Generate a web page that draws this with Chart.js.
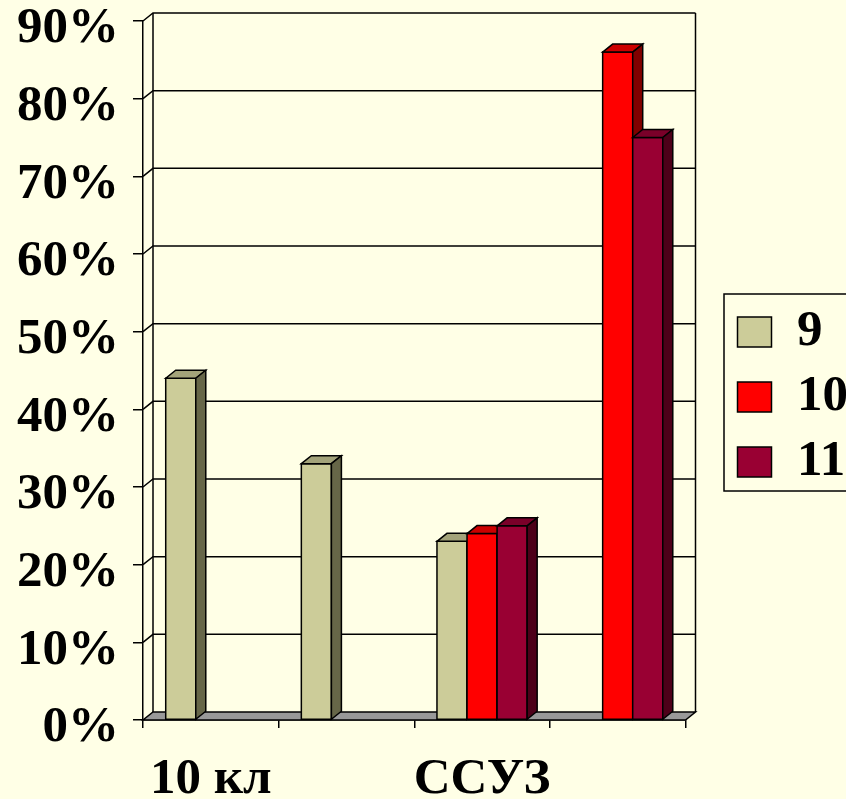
<!DOCTYPE html>
<html><head><meta charset="utf-8">
<script src="https://cdn.jsdelivr.net/npm/chart.js@4.4.0/dist/chart.umd.min.js"></script>
<style>
html,body{margin:0;padding:0;background:#FFFFE6;overflow:hidden;width:846px;height:799px}
canvas{display:block}
</style>
</head><body>
<canvas id="c"></canvas>
<script>
// ---- data ----
const categories = ["10 кл", "", "ССУЗ", ""];
const seriesNames = ["9", "10", "11"];
const grade9 = [44, 33, 23, 0];
const grade10 = [0, 0, 24, 86];
const grade11 = [0, 0, 25, 75];
const yMin = 0, yMax = 90, yStep = 10;

// ---- styles ----
const BG = '#FFFFE6';
const FONT = '"Liberation Serif", "Times New Roman", serif';
const FS = 51;
const frontColors = ['#CCCC99', '#FF0000', '#990033'];
const topColors = ['#A3A37A', '#CC0000', '#7A0029'];
const sideColors = ['#666648', '#800000', '#4D0019'];
const DX = 10, DY = 8;
const LEG_PAD = 14, LEG_BOX_W = 34, LEG_BOX_H = 30;
const LEGEND_LEFT = 723, PLOT_RIGHT = 685, H = 799;

const cv = document.getElementById('c');
function setCanvasWidth(w) {
  cv.width = w; cv.height = H;
  cv.style.width = w + 'px'; cv.style.height = H + 'px';
}

function poly(ctx, pts, fill) {
  ctx.beginPath();
  ctx.moveTo(pts[0][0], pts[0][1]);
  for (let k = 1; k < pts.length; k++) ctx.lineTo(pts[k][0], pts[k][1]);
  ctx.closePath();
  ctx.fillStyle = fill;
  ctx.fill();
  ctx.stroke();
}

const threeD = {
  id: 'threeD',
  afterLayout(chart) {
    // let the category labels use the space below the axis box (no clipping)
    chart.scales.x.bottom = chart.height;
  },
  beforeDraw(chart) {
    const ctx = chart.ctx;
    ctx.save();
    ctx.fillStyle = BG;
    ctx.fillRect(0, 0, chart.width, chart.height);
    ctx.restore();
  },
  beforeDatasetsDraw(chart) {
    const ctx = chart.ctx, a = chart.chartArea, ys = chart.scales.y;
    ctx.save();
    ctx.lineWidth = 1.5;
    ctx.strokeStyle = '#000';
    // floor
    poly(ctx, [[a.left, a.bottom], [a.right, a.bottom], [a.right + DX, a.bottom - DY], [a.left + DX, a.bottom - DY]], '#999999');
    // back wall grid + left wall diagonals
    ys.ticks.forEach(t => {
      if (t.value <= yMin) return;
      const py = ys.getPixelForValue(t.value);
      ctx.beginPath();
      ctx.moveTo(a.left, py);
      ctx.lineTo(a.left + DX, py - DY);
      ctx.lineTo(a.right + DX, py - DY);
      ctx.stroke();
    });
    ctx.beginPath();
    ctx.moveTo(a.left + DX, a.top - DY); ctx.lineTo(a.left + DX, a.bottom - DY);
    ctx.moveTo(a.right + DX, a.top - DY); ctx.lineTo(a.right + DX, a.bottom - DY);
    ctx.stroke();
    // bars with 3D faces, in series order so later bars cover earlier sides
    chart.data.datasets.forEach((ds, i) => {
      const meta = chart.getDatasetMeta(i);
      meta.data.forEach((bar, j) => {
        if (!ds.data[j]) return;
        const p = bar.getProps(['x', 'y', 'base', 'width'], true);
        const l = p.x - p.width / 2, r = p.x + p.width / 2, top = p.y, base = p.base;
        poly(ctx, [[l, top], [r, top], [r, base], [l, base]], frontColors[i]);
        poly(ctx, [[l, top], [l + DX, top - DY], [r + DX, top - DY], [r, top]], topColors[i]);
        poly(ctx, [[r, top], [r + DX, top - DY], [r + DX, base - DY], [r, base]], sideColors[i]);
      });
    });
    ctx.restore();
    return false;
  },
  afterDraw(chart) {
    const ctx = chart.ctx, lg = chart.legend;
    if (!lg || !lg.legendHitBoxes || !lg.legendHitBoxes.length) return;
    const hb = lg.legendHitBoxes;
    const last = hb[hb.length - 1];
    const off = (hb[0].height - LEG_BOX_H) / 2;
    const top = hb[0].top + off - 23, bottom = last.top + off + LEG_BOX_H + 14;
    ctx.save();
    ctx.strokeStyle = '#000';
    ctx.lineWidth = 1.5;
    ctx.strokeRect(lg.left + 0.5, top, chart.width, bottom - top);
    ctx.restore();
  }
};

const seriesData = [grade9, grade10, grade11];
function makeConfig() {
  return {
    type: 'bar',
    data: {
      labels: categories,
      datasets: seriesNames.map((n, i) => ({
        label: n,
        data: seriesData[i],
        backgroundColor: frontColors[i],
        borderColor: '#000',
        borderWidth: 1.5,
        categoryPercentage: 0.665,
        barPercentage: 1
      }))
    },
    options: {
      responsive: false,
      animation: false,
      devicePixelRatio: 1,
      layout: { padding: { top: 21, left: 0, right: 0, bottom: 26 } },
      plugins: {
        tooltip: { enabled: false },
        legend: {
          position: 'right',
          labels: {
            boxWidth: LEG_BOX_W, boxHeight: LEG_BOX_H, padding: LEG_PAD, color: '#000',
            font: { family: FONT, size: FS, weight: 'bold' }
          }
        }
      },
      scales: {
        x: {
          ticks: { font: { family: FONT, size: FS, weight: 'bold' }, color: '#000', padding: 21, autoSkip: false, maxRotation: 0 },
          grid: { drawOnChartArea: false, drawTicks: true, tickLength: 8, color: '#000', lineWidth: 1.5, offset: true },
          border: { display: true, color: '#000', width: 1.5 },
          afterFit: s => { s.height = 53; s.paddingLeft = 0; s.paddingRight = 0; }
        },
        y: {
          min: yMin, max: yMax,
          ticks: { stepSize: yStep, callback: v => v + '%', font: { family: FONT, size: FS, weight: 'bold' }, color: '#000', padding: 14, labelOffset: 8 },
          grid: { drawOnChartArea: false, drawTicks: true, tickLength: 10, color: '#000', lineWidth: 1.5 },
          border: { display: true, color: '#000', width: 1.5 },
          afterFit: s => { s.width = 143; s.paddingTop = 0; s.paddingBottom = 0; }
        },
        yR: {
          position: 'right', min: yMin, max: yMax,
          ticks: { display: false },
          grid: { display: false, drawTicks: false },
          border: { display: false },
          afterFit: s => { s.width = LEGEND_LEFT - PLOT_RIGHT; s.paddingTop = 0; s.paddingBottom = 0; }
        }
      }
    },
    plugins: [threeD]
  };
}

// first pass to learn the legend width, then size the canvas so the legend starts at LEGEND_LEFT
let W = 870;
setCanvasWidth(W);
let chart = new Chart(cv, makeConfig());
const legendW = W - chart.legend.left;
chart.destroy();
W = Math.round(LEGEND_LEFT + legendW);
setCanvasWidth(W);
chart = new Chart(cv, makeConfig());
</script>
</body></html>
